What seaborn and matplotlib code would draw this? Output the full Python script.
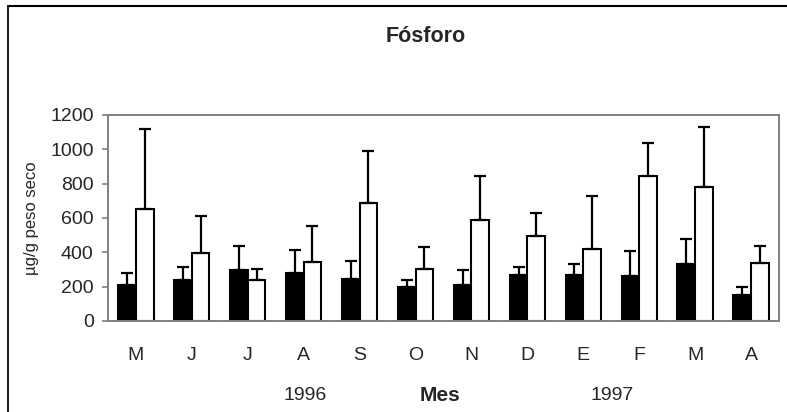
import numpy as np
import pandas as pd
import seaborn as sns
import matplotlib.pyplot as plt
from matplotlib.lines import Line2D

sns.set_style("white")
plt.rcParams['font.family'] = ['Liberation Sans', 'DejaVu Sans']

# monthly values (May 1996 - April 1997)
meses = ["M", "J", "J", "A", "S", "O", "N", "D", "E", "F", "M", "A"]
claves = ["May96", "Jun96", "Jul96", "Ago96", "Sep96", "Oct96", "Nov96",
          "Dic96", "Ene97", "Feb97", "Mar97", "Abr97"]
media_a = [208, 241, 298, 282, 245, 200, 208, 270, 266, 261, 334, 152]
sd_a = [70, 72, 138, 134, 103, 41, 88, 45, 65, 145, 144, 44]
media_b = [653, 397, 237, 346, 688, 301, 587, 494, 420, 844, 778, 338]
sd_b = [463, 212, 64, 208, 302, 131, 255, 136, 311, 191, 352, 98]

df = pd.DataFrame({
    "mes": claves * 2,
    "valor": media_a + media_b,
    "grupo": ["a"] * 12 + ["b"] * 12,
})
sds = {"a": sd_a, "b": sd_b}

fig = plt.figure(figsize=(7.87, 4.12), dpi=100)
ax = fig.add_axes([0.1372, 0.2209, 0.8526, 0.5])

sns.barplot(data=df, x="mes", y="valor", hue="grupo", order=claves,
            palette=["black", "white"], edgecolor="black", linewidth=1.5,
            width=0.63, saturation=1, legend=False, ax=ax)

# upward-only error bars on each bar
for cont, g in zip(ax.containers, ["a", "b"]):
    xs = [p.get_x() + p.get_width() / 2 for p in cont.patches]
    hs = [p.get_height() for p in cont.patches]
    ax.errorbar(xs, hs, yerr=[np.zeros(12), sds[g]], fmt="none",
                ecolor="black", elinewidth=1.6, capsize=4.5, capthick=1.6,
                zorder=1)

ax.set_ylim(0, 1200)
ax.set_xlim(-0.5, 11.5)
ax.set_yticks(range(0, 1201, 200))
ax.set_xticks(range(12))
ax.set_xticklabels(meses)
ax.set_xlabel("")
ax.set_ylabel("µg/g peso seco", fontsize=12, labelpad=8)
ax.tick_params(axis="x", length=0, pad=19, labelsize=14)
ax.tick_params(axis="y", length=4.3, width=1.2, color="#808080", pad=6,
               labelsize=14, left=True)
for s in ax.spines.values():
    s.set_color("#808080")
    s.set_linewidth(1.4)

fig.text(0.541, 0.912, "Fósforo", ha="center", va="center",
         fontsize=15.5, fontweight="bold")
fig.text(0.388, 0.041, "1996", ha="center", va="center", fontsize=14)
fig.text(0.559, 0.041, "Mes", ha="center", va="center", fontsize=15,
         fontweight="bold")
fig.text(0.778, 0.041, "1997", ha="center", va="center", fontsize=14)

# partial frame around the chart (top and left only)
fig.add_artist(Line2D([8 / 787, 1], [1 - 6 / 412, 1 - 6 / 412],
                      transform=fig.transFigure, color="black", lw=1.5))
fig.add_artist(Line2D([8 / 787, 8 / 787], [0, 1 - 6 / 412],
                      transform=fig.transFigure, color="#222222", lw=1.5))

fig.savefig("out.png", dpi=100)
